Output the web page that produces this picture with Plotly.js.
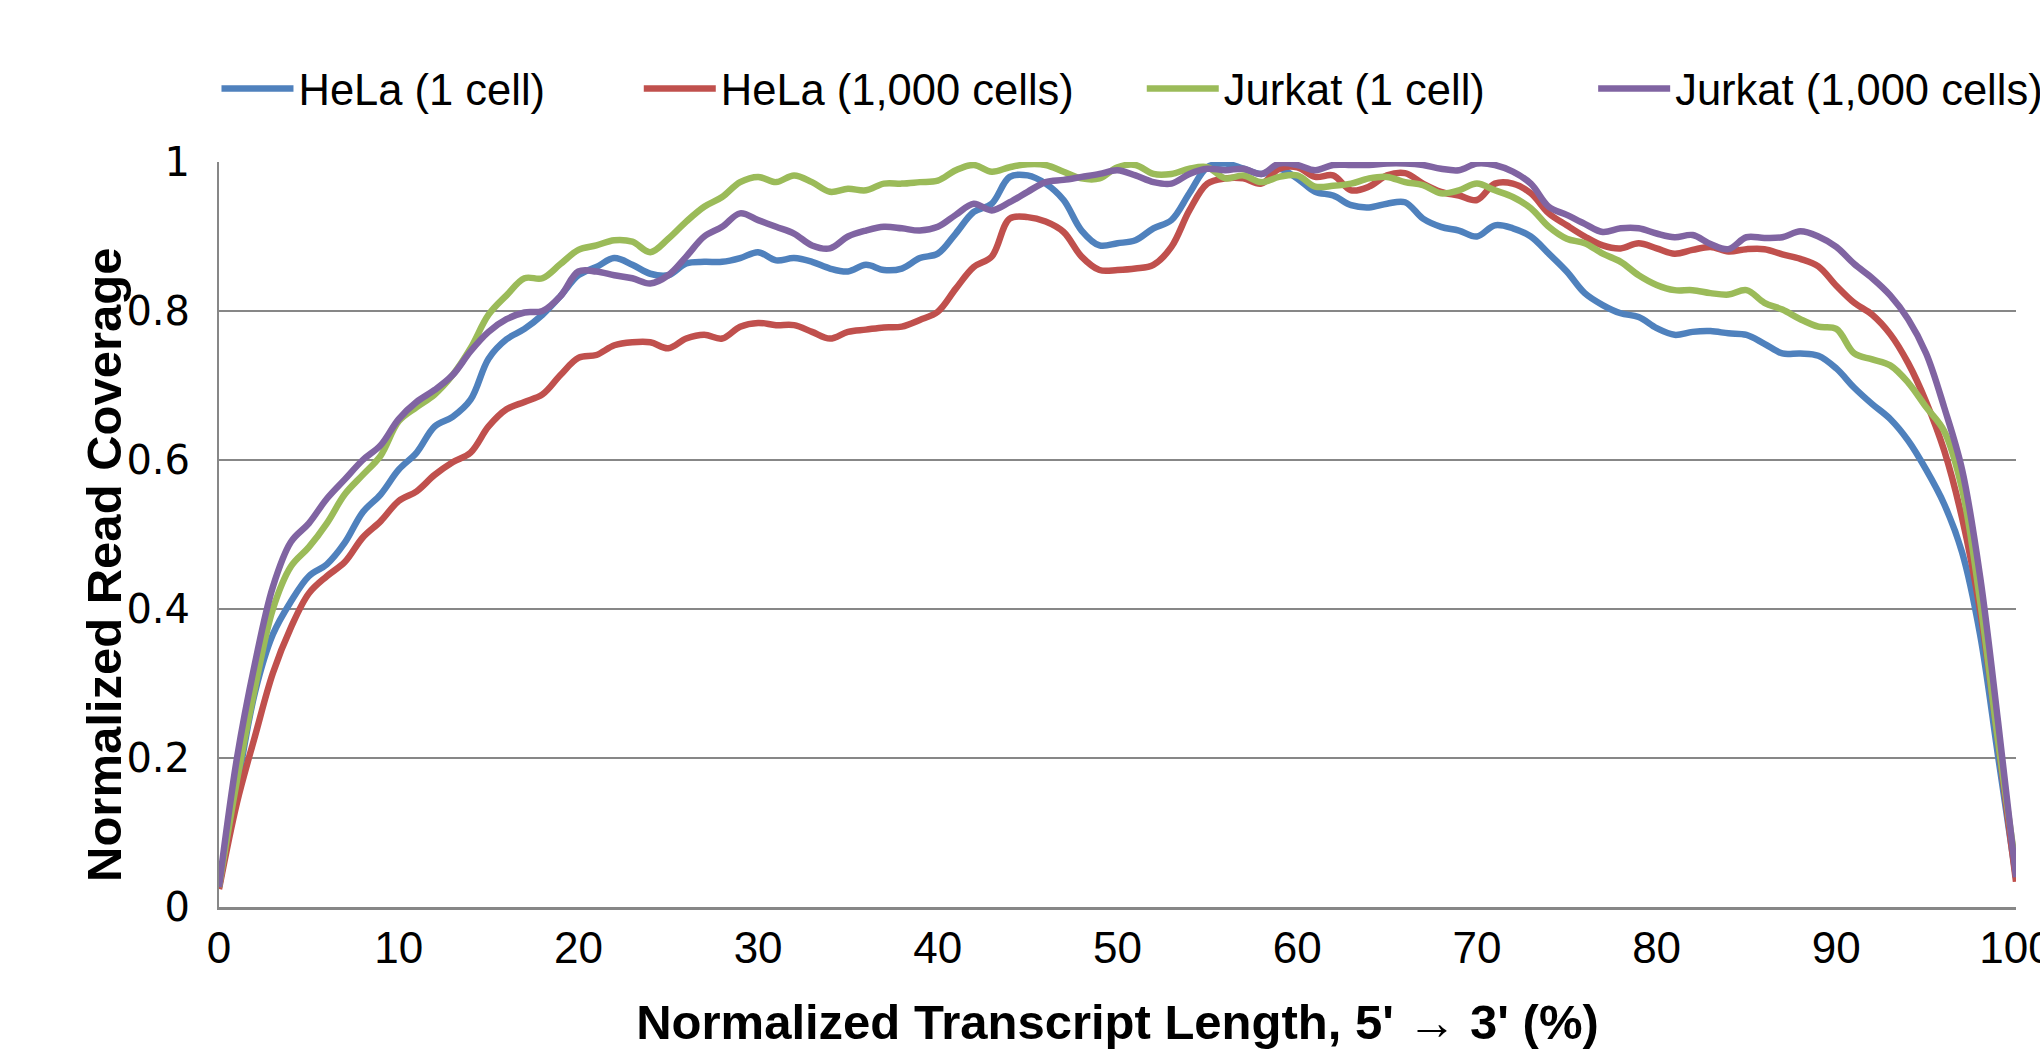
<!DOCTYPE html>
<html>
<head>
<meta charset="utf-8">
<script src="https://cdn.plot.ly/plotly-3.0.1.min.js"></script>
<style>
html, body { margin: 0; padding: 0; background: #ffffff; }
#chart { width: 2040px; height: 1052px; }
</style>
</head>
<body>
<div id="chart"></div>
<script>
// Normalized transcript position (%), 0..100
const positions = Array.from({length: 101}, (_, i) => i);

const seriesNames = ["HeLa (1 cell)", "HeLa (1,000 cells)", "Jurkat (1 cell)", "Jurkat (1,000 cells)"];

const helaOneCell = [
  0.027, 0.160, 0.288, 0.366, 0.410, 0.444, 0.460, 0.489, 0.530, 0.554,
  0.587, 0.610, 0.645, 0.658, 0.681, 0.736, 0.762, 0.776, 0.795, 0.820,
  0.848, 0.859, 0.871, 0.862, 0.850, 0.848, 0.864, 0.866, 0.866, 0.871,
  0.879, 0.868, 0.871, 0.866, 0.857, 0.853, 0.862, 0.855, 0.857, 0.871,
  0.877, 0.904, 0.933, 0.944, 0.980, 0.982, 0.971, 0.949, 0.908, 0.888,
  0.891, 0.895, 0.911, 0.922, 0.958, 0.993, 0.998, 0.991, 0.984, 0.991,
  0.978, 0.960, 0.955, 0.942, 0.939, 0.944, 0.946, 0.924, 0.913, 0.908,
  0.900, 0.915, 0.911, 0.900, 0.877, 0.853, 0.824, 0.808, 0.797, 0.792,
  0.777, 0.768, 0.772, 0.773, 0.770, 0.768, 0.756, 0.743, 0.743, 0.740,
  0.723, 0.697, 0.675, 0.655, 0.626, 0.587, 0.541, 0.476, 0.366, 0.203,
  0.040
];

const helaThousandCells = [
  0.024, 0.140, 0.229, 0.314, 0.375, 0.421, 0.444, 0.463, 0.496, 0.518,
  0.545, 0.558, 0.580, 0.597, 0.610, 0.645, 0.668, 0.678, 0.688, 0.714,
  0.737, 0.741, 0.754, 0.758, 0.758, 0.750, 0.763, 0.768, 0.763, 0.779,
  0.784, 0.781, 0.781, 0.772, 0.763, 0.772, 0.775, 0.778, 0.779, 0.788,
  0.799, 0.830, 0.859, 0.873, 0.924, 0.926, 0.920, 0.906, 0.873, 0.855,
  0.855, 0.857, 0.862, 0.886, 0.935, 0.971, 0.978, 0.978, 0.971, 0.991,
  0.993, 0.980, 0.982, 0.962, 0.967, 0.982, 0.985, 0.971, 0.960, 0.955,
  0.949, 0.971, 0.971, 0.958, 0.931, 0.915, 0.900, 0.888, 0.884, 0.891,
  0.884, 0.877, 0.882, 0.886, 0.880, 0.883, 0.883, 0.876, 0.870, 0.860,
  0.834, 0.811, 0.795, 0.769, 0.730, 0.678, 0.613, 0.522, 0.398, 0.223,
  0.034
];

const jurkatOneCell = [
  0.027, 0.170, 0.294, 0.400, 0.457, 0.483, 0.515, 0.554, 0.580, 0.606,
  0.652, 0.671, 0.688, 0.714, 0.750, 0.795, 0.821, 0.844, 0.844, 0.863,
  0.882, 0.888, 0.895, 0.893, 0.879, 0.897, 0.920, 0.940, 0.953, 0.973,
  0.980, 0.973, 0.982, 0.973, 0.960, 0.964, 0.962, 0.971, 0.971, 0.973,
  0.975, 0.989, 0.996, 0.987, 0.993, 0.997, 0.996, 0.987, 0.978, 0.978,
  0.993, 0.996, 0.984, 0.984, 0.991, 0.993, 0.978, 0.982, 0.973, 0.980,
  0.982, 0.967, 0.968, 0.971, 0.978, 0.980, 0.973, 0.969, 0.958, 0.962,
  0.971, 0.962, 0.953, 0.938, 0.913, 0.897, 0.891, 0.877, 0.866, 0.848,
  0.835, 0.828, 0.828, 0.824, 0.822, 0.828, 0.811, 0.802, 0.789, 0.779,
  0.776, 0.743, 0.735, 0.727, 0.704, 0.671, 0.639, 0.561, 0.411, 0.223,
  0.053
];

const jurkatThousandCells = [
  0.027, 0.200, 0.327, 0.430, 0.490, 0.515, 0.548, 0.574, 0.600, 0.620,
  0.655, 0.678, 0.694, 0.714, 0.746, 0.772, 0.789, 0.798, 0.800, 0.820,
  0.853, 0.853, 0.848, 0.844, 0.837, 0.848, 0.873, 0.900, 0.913, 0.931,
  0.922, 0.913, 0.904, 0.888, 0.884, 0.900, 0.908, 0.913, 0.911, 0.908,
  0.913, 0.929, 0.944, 0.935, 0.946, 0.960, 0.973, 0.976, 0.980, 0.984,
  0.989, 0.982, 0.973, 0.971, 0.984, 0.991, 0.989, 0.991, 0.984, 0.998,
  0.996, 0.989, 0.996, 0.996, 0.996, 0.998, 0.998, 0.996, 0.991, 0.989,
  0.998, 0.996, 0.987, 0.971, 0.940, 0.929, 0.917, 0.906, 0.911, 0.911,
  0.904, 0.899, 0.902, 0.890, 0.883, 0.899, 0.898, 0.899, 0.907, 0.900,
  0.886, 0.863, 0.844, 0.821, 0.789, 0.743, 0.671, 0.587, 0.444, 0.249,
  0.040
];

const xTickValues = [0, 10, 20, 30, 40, 50, 60, 70, 80, 90, 100];
const xTickLabels = ["0", "10", "20", "30", "40", "50", "60", "70", "80", "90", "100"];
const yTickValues = [0, 0.2, 0.4, 0.6, 0.8, 1];
const yTickLabels = ["0", "0.2", "0.4", "0.6", "0.8", "1"];

const xAxisTitle = "Normalized Transcript Length, 5' \u2192 3' (%)";
const yAxisTitle = "Normalized Read Coverage";

const seriesValues = [helaOneCell, helaThousandCells, jurkatOneCell, jurkatThousandCells];
const seriesColors = ["#4F81BD", "#C0504D", "#9BBB59", "#8064A2"];
const legendIds = ["legend", "legend2", "legend3", "legend4"];
const legendX = [-0.0014, 0.2336, 0.5135, 0.7647];

const traces = seriesValues.map((vals, i) => ({
  type: "scatter",
  mode: "lines",
  x: positions,
  y: vals,
  name: seriesNames[i],
  legend: legendIds[i],
  line: { color: seriesColors[i], width: 6.5, shape: "spline", smoothing: 1 },
  hoverinfo: "skip"
}));

const legendFont = { family: "Liberation Sans, Arial, sans-serif", size: 43.5, color: "#000000" };

const layout = {
  width: 2040,
  height: 1052,
  margin: { l: 218.5, r: 24, t: 162, b: 145, pad: 0, autoexpand: false },
  paper_bgcolor: "#ffffff",
  plot_bgcolor: "#ffffff",
  showlegend: true,
  hovermode: false,
  xaxis: {
    range: [0, 100],
    tickvals: xTickValues,
    ticktext: xTickLabels,
    ticks: "outside",
    ticklen: 14,
    tickcolor: "rgba(0,0,0,0)",
    ticklabelstandoff: -14,
    ticklabeloverflow: "allow",
    showgrid: false,
    zeroline: false,
    showline: true,
    linecolor: "#878787",
    linewidth: 3,
    tickfont: { family: "Liberation Sans, Arial, sans-serif", size: 44, color: "#000000" },
    title: {
      text: xAxisTitle,
      font: { family: "Liberation Sans, Arial, sans-serif", size: 49, color: "#000000", weight: "bold" },
      standoff: 34
    },
    automargin: false
  },
  yaxis: {
    range: [0, 1],
    tickvals: yTickValues,
    ticktext: yTickLabels,
    ticks: "outside",
    ticklen: 19,
    tickcolor: "rgba(0,0,0,0)",
    showgrid: true,
    gridcolor: "#878787",
    gridwidth: 2,
    zeroline: false,
    showline: true,
    linecolor: "#878787",
    linewidth: 2,
    tickfont: { family: "DejaVu Sans, sans-serif", size: 40, color: "#000000" },
    automargin: false
  },
  annotations: [{
    text: yAxisTitle,
    textangle: -90,
    xref: "paper",
    yref: "paper",
    x: -0.064,
    y: 0.4604,
    xanchor: "center",
    yanchor: "middle",
    showarrow: false,
    font: { family: "Liberation Sans, Arial, sans-serif", size: 49, color: "#000000", weight: "bold" }
  }]
};

legendIds.forEach((id, i) => {
  layout[id] = {
    orientation: "h",
    x: legendX[i],
    xanchor: "left",
    y: 1.0985,
    yanchor: "middle",
    font: legendFont,
    itemwidth: 72,
    bgcolor: "rgba(0,0,0,0)",
    borderwidth: 0,
    tracegroupgap: 0
  };
});

Plotly.newPlot("chart", traces, layout, { displayModeBar: false, staticPlot: true });
</script>
</body>
</html>
